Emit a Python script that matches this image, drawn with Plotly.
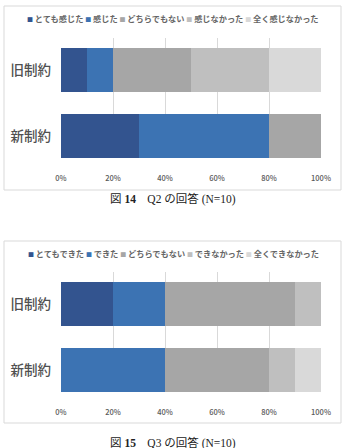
import plotly.graph_objects as go

W, H = 346, 448

groups = ["旧制約", "新制約"]
names_q2 = ["とても感じた", "感じた", "どちらでもない", "感じなかった", "全く感じなかった"]
names_q3 = ["とてもできた", "できた", "どちらでもない", "できなかった", "全くできなかった"]
colors = ["#33548f", "#3c73b3", "#a6a6a6", "#bfbfbf", "#d9d9d9"]

# percentages per answer, for [旧制約, 新制約]
q2_values = [[10, 30], [10, 50], [30, 20], [30, 0], [20, 0]]
q3_values = [[20, 0], [20, 40], [50, 40], [10, 10], [0, 10]]

x_ticks = [0, 20, 40, 60, 80, 100]
x_ticktext = ["0%", "20%", "40%", "60%", "80%", "100%"]

captions = ["図 <b>14</b>　Q2 の回答 (N=10)", "図 <b>15</b>　Q3 の回答 (N=10)"]

CJK = "Noto Sans CJK JP"
GRAY = "#595959"

def py(p):
    return 1 - p / H

def px(p):
    return p / W

fig = go.Figure()

panels = [
    dict(names=names_q2, values=q2_values, xa="x", ya="y", top=38, bot=158, box=(6, 190), leg=18, cap=199),
    dict(names=names_q3, values=q3_values, xa="x2", ya="y2", top=272, bot=392, box=(241, 423), leg=253, cap=443),
]

for i, p in enumerate(panels):
    for name, vals, col in zip(p["names"], p["values"], colors):
        fig.add_trace(go.Bar(
            y=groups, x=vals, name=name, orientation="h",
            marker=dict(color=col, line=dict(width=0)),
            xaxis=p["xa"], yaxis=p["ya"], showlegend=False,
            hoverinfo="skip",
        ))
    sfx = "" if i == 0 else "2"
    fig.layout["xaxis" + sfx] = dict(
        domain=[px(61), px(321)], range=[0, 100], tickvals=x_ticks, ticktext=x_ticktext,
        showgrid=True, gridcolor="#d9d9d9", gridwidth=1, zeroline=False, showline=False,
        ticks="", ticklabelstandoff=14, anchor="y" + sfx, automargin=False,
        tickfont=dict(family=CJK, size=7.5, color=GRAY, weight=500), fixedrange=True,
    )
    fig.layout["yaxis" + sfx] = dict(
        domain=[py(p["bot"]), py(p["top"])], type="category",
        categoryorder="array", categoryarray=groups[::-1],
        range=[-0.333, 1.485], showgrid=False, zeroline=False, showline=False,
        ticks="", ticklabelstandoff=9, anchor="x" + sfx, automargin=False,
        tickfont=dict(family=CJK, size=13.5, color="#505050", weight=500), fixedrange=True,
    )
    # chart frame
    fig.add_shape(type="rect", xref="paper", yref="paper",
                  x0=px(4), x1=px(341), y0=py(p["box"][1]), y1=py(p["box"][0]),
                  line=dict(color="#d9d9d9", width=1), fillcolor="rgba(0,0,0,0)", layer="below")
    # legend built from series names
    parts = []
    for name, col in zip(p["names"], colors):
        parts.append(f"<span style='color:{col};font-size:6px'>■</span> {name}")
    fig.add_annotation(
        xref="paper", yref="paper", x=px(173), y=py(p["leg"]),
        text=" ".join(parts), showarrow=False, xanchor="center", yanchor="middle",
        font=dict(family=CJK, size=8.2, color="#666666", weight=600),
    )
    fig.add_annotation(
        xref="paper", yref="paper", x=px(173), y=py(p["cap"]),
        text=captions[i], showarrow=False, xanchor="center", yanchor="middle",
        font=dict(family="Liberation Serif, " + CJK, size=11.5, color="#222222"),
    )

fig.update_layout(
    template="none",
    width=W, height=H, margin=dict(l=0, r=0, t=0, b=0, pad=0),
    paper_bgcolor="white", plot_bgcolor="white",
    barmode="stack", bargap=0.333, showlegend=False,
)

fig.write_html("out.html", config={"displayModeBar": False})
